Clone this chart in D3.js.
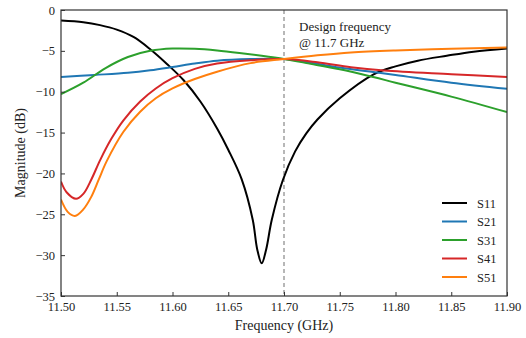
<!DOCTYPE html>
<meta charset="utf-8">
<style>
  body { margin: 0; background: #fff; }
  svg text { font-family: "Liberation Serif", "Times New Roman", serif; fill: #222; }
</style>
<script src="https://d3js.org/d3.v7.min.js"></script>
<div id="chart"></div>
<script>
// values (GHz, dB)
const s11Freq = [11.50, 11.52, 11.535, 11.55, 11.565, 11.58, 11.595, 11.61, 11.625, 11.64, 11.65, 11.662, 11.672, 11.676, 11.68, 11.684, 11.689, 11.699, 11.71, 11.72, 11.73, 11.75, 11.78, 11.80, 11.82, 11.846, 11.87, 11.90];
const s11Mag  = [-1.3, -1.5, -1.85, -2.4, -3.3, -4.8, -6.6, -8.6, -11.2, -14.5, -17.1, -20.7, -25.7, -29.3, -31.0, -29.3, -25.7, -20.8, -17.3, -15.1, -13.4, -10.8, -7.9, -6.9, -6.2, -5.6, -5.1, -4.7];

const s21Freq = [11.50, 11.53, 11.56, 11.58, 11.60, 11.62, 11.64, 11.67, 11.70, 11.72, 11.75, 11.78, 11.80, 11.85, 11.90];
const s21Mag  = [-8.2, -7.95, -7.68, -7.38, -6.98, -6.55, -6.2, -6.0, -6.0, -6.35, -7.05, -7.6, -7.95, -8.9, -9.65];

const s31Freq = [11.50, 11.52, 11.54, 11.56, 11.58, 11.60, 11.62, 11.64, 11.66, 11.68, 11.70, 11.72, 11.75, 11.78, 11.80, 11.85, 11.90];
const s31Mag  = [-10.3, -8.9, -7.1, -5.75, -5.0, -4.72, -4.75, -4.95, -5.25, -5.6, -6.0, -6.5, -7.25, -8.2, -8.9, -10.6, -12.5];

const s41Freq = [11.50, 11.505, 11.5135, 11.52, 11.527, 11.535, 11.545, 11.556, 11.571, 11.585, 11.60, 11.62, 11.64, 11.67, 11.70, 11.73, 11.76, 11.79, 11.85, 11.90];
const s41Mag  = [-21.0, -22.3, -23.1, -22.5, -20.8, -18.4, -15.8, -13.5, -11.2, -9.6, -8.35, -7.2, -6.55, -6.15, -6.0, -6.4, -7.0, -7.4, -7.85, -8.2];

const s51Freq = [11.50, 11.506, 11.5125, 11.52, 11.527, 11.534, 11.541, 11.556, 11.571, 11.585, 11.60, 11.62, 11.64, 11.67, 11.70, 11.73, 11.76, 11.80, 11.85, 11.90];
const s51Mag  = [-23.2, -24.7, -25.2, -24.4, -22.9, -20.7, -18.5, -14.9, -12.45, -10.8, -9.6, -8.45, -7.55, -6.5, -6.0, -5.55, -5.2, -4.95, -4.75, -4.6];

const seriesNames = ["S11", "S21", "S31", "S41", "S51"];
const seriesColors = ["#000000", "#1f77b4", "#2ca02c", "#d62728", "#ff7f0e"];
const xTicks = [11.50, 11.55, 11.60, 11.65, 11.70, 11.75, 11.80, 11.85, 11.90];
const yTicks = [0, -5, -10, -15, -20, -25, -30, -35];
const designFreq = 11.7;

const series = [
  {name: seriesNames[0], freq: s11Freq, mag: s11Mag},
  {name: seriesNames[1], freq: s21Freq, mag: s21Mag},
  {name: seriesNames[2], freq: s31Freq, mag: s31Mag},
  {name: seriesNames[3], freq: s41Freq, mag: s41Mag},
  {name: seriesNames[4], freq: s51Freq, mag: s51Mag}
];

const width = 526, height = 338;
const margin = {top: 10, right: 19, bottom: 42, left: 61};

const svg = d3.select("#chart").append("svg")
    .attr("width", width)
    .attr("height", height);

const x = d3.scaleLinear().domain([11.5, 11.9]).range([margin.left, width - margin.right]);
const y = d3.scaleLinear().domain([-35, 0]).range([height - margin.bottom, margin.top]);

// curves (clipped to plot box)
svg.append("clipPath").attr("id", "clip")
  .append("rect")
    .attr("x", margin.left).attr("y", margin.top)
    .attr("width", x.range()[1] - margin.left)
    .attr("height", y.range()[0] - margin.top);

const line = d3.line()
    .x(d => x(d[0]))
    .y(d => y(d[1]))
    .curve(d3.curveCatmullRom.alpha(0.5));

svg.append("line")
    .attr("x1", x(designFreq)).attr("x2", x(designFreq))
    .attr("y1", y(0)).attr("y2", y(-35))
    .attr("stroke", "#888")
    .attr("stroke-width", 1.2)
    .attr("stroke-dasharray", "4,3");

svg.append("g").attr("clip-path", "url(#clip)")
  .selectAll("path")
  .data(series)
  .join("path")
    .attr("fill", "none")
    .attr("stroke", (d, i) => seriesColors[i])
    .attr("stroke-width", 2)
    .attr("d", d => line(d.freq.map((f, i) => [f, d.mag[i]])));

// axes with inward ticks
const xAxis = svg.append("g")
    .attr("transform", `translate(0,${y(-35)})`)
    .call(d3.axisBottom(x).tickValues(xTicks).tickFormat(d3.format(".2f")).tickSizeInner(-4).tickSizeOuter(0).tickPadding(6));
const yAxis = svg.append("g")
    .attr("transform", `translate(${x(11.5)},0)`)
    .call(d3.axisLeft(y).tickValues(yTicks).tickSizeInner(-4).tickSizeOuter(0).tickPadding(6));

[xAxis, yAxis].forEach(g => {
  g.select(".domain").remove();
  g.selectAll(".tick line").attr("stroke", "#333");
  g.selectAll(".tick text").attr("font-size", 12.5).attr("fill", "#222")
    .style("font-family", '"Liberation Serif", serif');
});

// frame
svg.append("rect")
    .attr("x", x(11.5)).attr("y", y(0))
    .attr("width", x(11.9) - x(11.5))
    .attr("height", y(-35) - y(0))
    .attr("fill", "none")
    .attr("stroke", "#333")
    .attr("stroke-width", 1.2);

// axis labels
svg.append("text")
    .attr("x", (x(11.5) + x(11.9)) / 2)
    .attr("y", 330)
    .attr("text-anchor", "middle")
    .attr("font-size", 14)
    .text("Frequency (GHz)");

svg.append("text")
    .attr("transform", `translate(25,${(y(0) + y(-35)) / 2}) rotate(-90)`)
    .attr("text-anchor", "middle")
    .attr("font-size", 14)
    .text("Magnitude (dB)");

// annotation
svg.append("text")
    .attr("x", x(designFreq) + 15)
    .attr("y", 31)
    .attr("font-size", 13)
    .text("Design frequency");
svg.append("text")
    .attr("x", x(designFreq) + 15)
    .attr("y", 47)
    .attr("font-size", 13)
    .text("@ 11.7 GHz");

// legend
const legend = svg.append("g")
  .selectAll("g")
  .data(series)
  .join("g")
    .attr("transform", (d, i) => `translate(442,${203 + i * 18.5})`);
legend.append("line")
    .attr("x1", 0).attr("x2", 25)
    .attr("stroke", (d, i) => seriesColors[i])
    .attr("stroke-width", 2);
legend.append("text")
    .attr("x", 35)
    .attr("y", 4.5)
    .attr("font-size", 12.5)
    .text(d => d.name);
</script>
